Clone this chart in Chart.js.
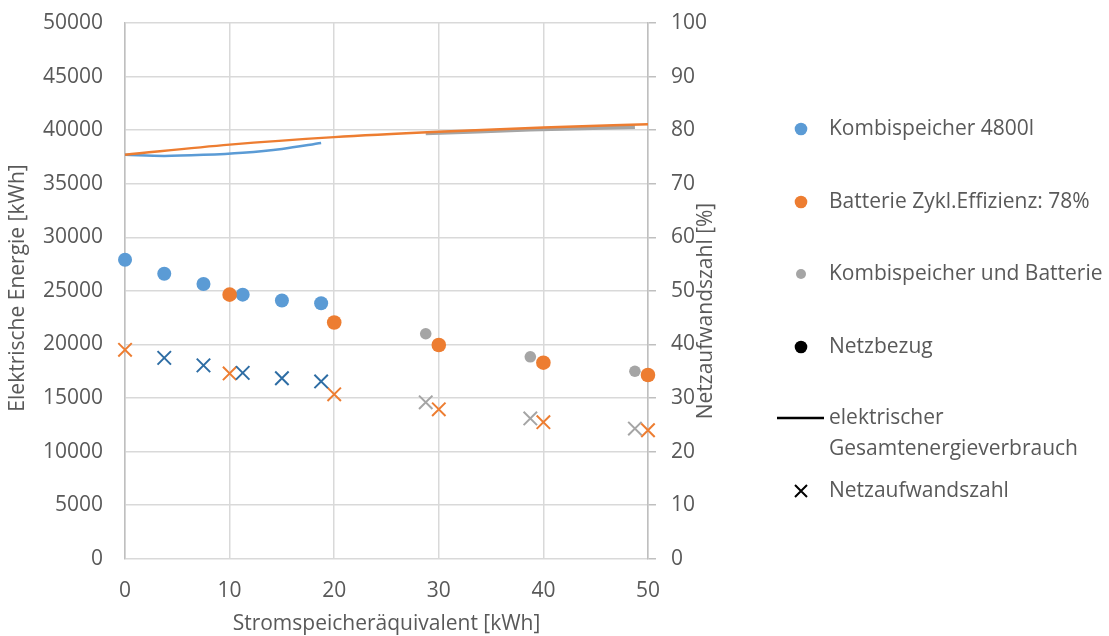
<!DOCTYPE html>
<html>
<head>
<meta charset="utf-8">
<script src="https://cdn.jsdelivr.net/npm/chart.js@4.4.1/dist/chart.umd.min.js"></script>
<style>
  html, body { margin: 0; padding: 0; background: #fff; }
  #wrap { width: 1109px; height: 636px; }
</style>
</head>
<body>
<div id="wrap"><canvas id="myChart" width="1109" height="636"></canvas></div>
<script>
"use strict";

// x-Werte (Stromspeicheräquivalent [kWh])
const xKombi = [0, 3.75, 7.5, 11.25, 15, 18.75];
const xBatt = [0, 10, 20, 30, 40, 50];
const xBeide = [28.75, 38.75, 48.75];

// Netzbezug [kWh]
const netzKombi = [27900, 26600, 25650, 24650, 24100, 23850];
const netzBatt = [null, 24650, 22050, 19950, 18300, 17150];
const netzBeide = [21000, 18850, 17500];

// elektrischer Gesamtenergieverbrauch [kWh]
const gesamtKombi = [37700, 37600, 37700, 37900, 38250, 38800];
const gesamtBatt = [37700, 38650, 39350, 39850, 40250, 40550];
const gesamtBeide = [39700, 40050, 40300];

// Netzaufwandszahl [%]
const nazKombi = [null, 37.5, 36.1, 34.7, 33.7, 33.1];
const nazBatt = [39.0, 34.6, 30.7, 27.9, 25.5, 24.0];
const nazBeide = [29.2, 26.2, 24.3];

// Achsen-Ticks
const xTicks = [0, 10, 20, 30, 40, 50];
const yTicks = [0, 5000, 10000, 15000, 20000, 25000, 30000, 35000, 40000, 45000, 50000];
const y1Ticks = [0, 10, 20, 30, 40, 50, 60, 70, 80, 90, 100];

const blau = '#5b9bd5', blauDunkel = '#2e6da4', orange = '#ed7d31', grau = '#a5a5a5';
const textFarbe = '#595959';
const schrift = '"Open Sans", sans-serif';
const gr = 21;

function pts(xs, ys) {
    const out = [];
    for (let i = 0; i < xs.length; i++) {
        if (ys[i] !== null) out.push({x: xs[i], y: ys[i]});
    }
    return out;
}

// Legende rechts + Achsentitel
const legendePlugin = {
    id: 'legende',
    afterDraw(chart) {
        const ctx = chart.ctx;
        const area = chart.chartArea;
        ctx.save();
        ctx.font = gr + 'px ' + schrift;
        ctx.fillStyle = textFarbe;
        ctx.textBaseline = 'middle';
        const tx = 829, mx = 801;
        const eintraege = [
            {y: 129, farbe: blau, r: 6.3, text: 'Kombispeicher 4800l'},
            {y: 202, farbe: orange, r: 6.3, text: 'Batterie Zykl.Effizienz: 78%'},
            {y: 274, farbe: grau, r: 5, text: 'Kombispeicher und Batterie'},
            {y: 347, farbe: '#000', r: 6.3, text: 'Netzbezug'}
        ];
        eintraege.forEach(e => {
            ctx.beginPath();
            ctx.fillStyle = e.farbe;
            ctx.arc(mx, e.y, e.r, 0, Math.PI * 2);
            ctx.fill();
            ctx.fillStyle = textFarbe;
            ctx.fillText(e.text, tx, e.y);
        });
        // Linie
        ctx.strokeStyle = '#000';
        ctx.lineWidth = 2.5;
        ctx.beginPath();
        ctx.moveTo(777, 418);
        ctx.lineTo(824, 418);
        ctx.stroke();
        ctx.fillText('elektrischer', tx, 418);
        ctx.fillText('Gesamtenergieverbrauch', tx, 449);
        // Kreuz
        ctx.lineWidth = 2;
        ctx.beginPath();
        ctx.moveTo(mx - 6, 485); ctx.lineTo(mx + 6, 497);
        ctx.moveTo(mx + 6, 485); ctx.lineTo(mx - 6, 497);
        ctx.stroke();
        ctx.fillText('Netzaufwandszahl', tx, 491);

        // Achsentitel
        ctx.textAlign = 'center';
        ctx.fillText('Stromspeicheräquivalent [kWh]', (area.left + area.right) / 2, 624);
        ctx.save();
        ctx.translate(18, 288);
        ctx.rotate(-Math.PI / 2);
        ctx.fillText('Elektrische Energie [kWh]', 0, 0);
        ctx.restore();
        ctx.translate(706, 311);
        ctx.rotate(-Math.PI / 2);
        ctx.fillText('Netzaufwandszahl [%]', 0, 0);
        ctx.restore();
    }
};

const tickFont = {family: schrift, size: gr};
// oberen Label-Überstand nicht als Abstand einrechnen
const ohneTopPadding = s => { s.paddingTop = 0; };

const ctx = document.getElementById('myChart').getContext('2d');
new Chart(ctx, {
    type: 'scatter',
    data: {
        datasets: [
            {label: 'Netzaufwandszahl Kombi', data: pts(xKombi, nazKombi), yAxisID: 'y1',
             pointStyle: 'crossRot', pointRadius: 9.5, pointBorderWidth: 2, borderColor: blauDunkel, backgroundColor: blauDunkel, order: 1},
            {label: 'Netzaufwandszahl Batterie', data: pts(xBatt, nazBatt), yAxisID: 'y1',
             pointStyle: 'crossRot', pointRadius: 9.5, pointBorderWidth: 2, borderColor: orange, backgroundColor: orange, order: 1},
            {label: 'Netzaufwandszahl beide', data: pts(xBeide, nazBeide), yAxisID: 'y1',
             pointStyle: 'crossRot', pointRadius: 9.5, pointBorderWidth: 2, borderColor: grau, backgroundColor: grau, order: 1},
            {label: 'Netzbezug Kombi', data: pts(xKombi, netzKombi), yAxisID: 'y',
             pointRadius: 7, borderWidth: 0, borderColor: blau, backgroundColor: blau, order: 2},
            {label: 'Netzbezug Batterie', data: pts(xBatt, netzBatt), yAxisID: 'y',
             pointRadius: 7.3, borderWidth: 0, borderColor: orange, backgroundColor: orange, order: 1},
            {label: 'Netzbezug beide', data: pts(xBeide, netzBeide), yAxisID: 'y',
             pointRadius: 5.8, borderWidth: 0, borderColor: grau, backgroundColor: grau, order: 2},
            {label: 'Gesamt Kombi', data: pts(xKombi, gesamtKombi), yAxisID: 'y', showLine: true,
             pointRadius: 0, borderWidth: 2.5, borderColor: blau, tension: 0.4, cubicInterpolationMode: 'monotone', order: 5},
            {label: 'Gesamt Beide', data: pts(xBeide, gesamtBeide), yAxisID: 'y', showLine: true,
             pointRadius: 0, borderWidth: 4, borderColor: grau, tension: 0.4, order: 4},
            {label: 'Gesamt Batterie', data: pts(xBatt, gesamtBatt), yAxisID: 'y', showLine: true,
             pointRadius: 0, borderWidth: 2.5, borderColor: orange, tension: 0.4, cubicInterpolationMode: 'monotone', order: 3}
        ]
    },
    options: {
        responsive: false,
        animation: false,
        datasets: {scatter: {clip: false}},
        layout: {padding: {left: 21, right: 387, top: 23, bottom: 12}},
        plugins: {legend: {display: false}, tooltip: {enabled: false}},
        scales: {
            x: {
                type: 'linear', min: 0, max: 50,
                afterBuildTicks: s => { s.ticks = xTicks.map(v => ({value: v})); },
                ticks: {color: textFarbe, font: tickFont, padding: 20, callback: v => String(v)},
                grid: {color: '#d9d9d9', lineWidth: 1.5, drawTicks: false},
                border: {display: false},
                title: {display: false}
            },
            y: {
                position: 'left', min: 0, max: 50000,
                afterBuildTicks: s => { s.ticks = yTicks.map(v => ({value: v})); },
                afterFit: ohneTopPadding,
                ticks: {color: textFarbe, font: tickFont, padding: 22, callback: v => String(v)},
                grid: {color: '#d9d9d9', lineWidth: 1.5, drawTicks: false},
                border: {color: '#bfbfbf', width: 1.5},
                title: {display: false}
            },
            y1: {
                position: 'right', min: 0, max: 100,
                afterBuildTicks: s => { s.ticks = y1Ticks.map(v => ({value: v})); },
                afterFit: ohneTopPadding,
                ticks: {color: textFarbe, font: tickFont, padding: 15, callback: v => String(v)},
                grid: {drawOnChartArea: false, color: '#bfbfbf', lineWidth: 1.5, tickLength: 8},
                border: {color: '#bfbfbf', width: 1.5},
                title: {display: false}
            }
        }
    },
    plugins: [legendePlugin]
});
</script>
</body>
</html>
